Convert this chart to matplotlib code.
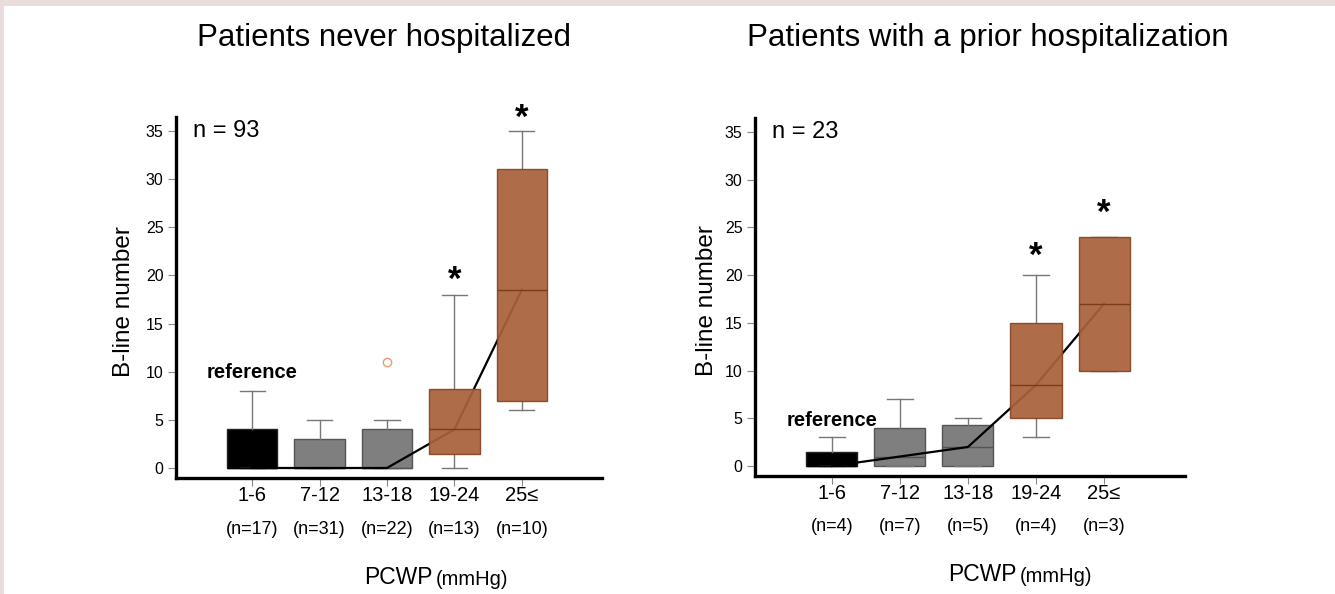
import numpy as np
import matplotlib.pyplot as plt
from matplotlib.patches import Rectangle

plt.rcParams['font.family'] = ['Liberation Sans', 'DejaVu Sans']

categories = ['1-6', '7-12', '13-18', '19-24', '25≤']

# never hospitalized
never_n = ['(n=17)', '(n=31)', '(n=22)', '(n=13)', '(n=10)']
never_q1 = [0, 0, 0, 1.5, 7]
never_q3 = [4, 3, 4, 8.2, 31]
never_med = [0, 0, 0, 4, 18.5]
never_lo = [0, 0, 0, 0, 6]
never_hi = [8, 5, 5, 18, 35]
never_fliers = [[], [], [11], [], []]
never_star = [None, None, None, 19.5, 36.3]

# prior hospitalization
prior_n = ['(n=4)', '(n=7)', '(n=5)', '(n=4)', '(n=3)']
prior_q1 = [0, 0, 0, 5, 10]
prior_q3 = [1.5, 4, 4.3, 15, 24]
prior_med = [0, 1, 2, 8.5, 17]
prior_lo = [0, 0, 0, 3, 10]
prior_hi = [3, 7, 5, 20, 24]
prior_fliers = [[], [], [], [], []]
prior_star = [None, None, None, 22, 26.5]

box_colors = ['black', '#7f7f7f', '#7f7f7f', '#a8623a', '#a8623a']
edge_colors = ['#222222', '#555555', '#555555', '#844522', '#844522']
med_colors = ['black', '#555555', '#555555', '#7a3d1c', '#7a3d1c']

fig = plt.figure(figsize=(13.35, 5.94), dpi=100)
fig.patch.set_facecolor('#e9dcdc')
fig.patches.append(Rectangle((4 / 1335, 0), 1, 1 - 6 / 594, transform=fig.transFigure,
                             facecolor='white', edgecolor='none', zorder=-10))


def panel(rect, q1, q3, med, lo, hi, fliers, stars, nlab, n_total, ref_y, ylab_x, unit_x):
    ax = fig.add_axes(rect)
    ax.patch.set_alpha(0)
    stats = []
    for i in range(len(categories)):
        stats.append(dict(q1=q1[i], q3=q3[i], med=med[i], whislo=lo[i], whishi=hi[i],
                          fliers=fliers[i]))
    pos = np.arange(1, len(categories) + 1)
    bp = ax.bxp(stats, positions=pos, widths=0.75, patch_artist=True, showfliers=True,
                whiskerprops=dict(color='#777777', lw=1),
                capprops=dict(color='#777777', lw=1),
                boxprops=dict(lw=1),
                flierprops=dict(marker='o', markerfacecolor='none', markeredgecolor='#ec9a70',
                                markersize=6, markeredgewidth=1))
    for i, b in enumerate(bp['boxes']):
        b.set_facecolor(box_colors[i])
        b.set_edgecolor(edge_colors[i])
        if i >= 3:
            b.set_zorder(3)
            b.set_alpha(0.93)
        else:
            b.set_zorder(2)
    for i, m in enumerate(bp['medians']):
        m.set_color(med_colors[i])
        m.set_lw(1)
        m.set_zorder(3.5 if i >= 3 else 2.2)
    ax.plot(pos, med, color='black', lw=1.6, zorder=2.5)

    for i, s in enumerate(stars):
        if s is not None:
            ax.text(pos[i], s, '*', ha='center', va='center', fontsize=25, fontweight='bold')
    ax.text(pos[0], ref_y, 'reference', ha='center', va='center', fontsize=14.5,
            fontweight='bold')
    ax.text(0.12, 35, n_total, ha='left', va='center', fontsize=17)

    ax.set_xlim(-0.13, 6.19)
    ax.set_ylim(-1.04, 36.45)
    ax.set_yticks(range(0, 36, 5))
    ax.set_xticks(pos)
    ax.set_xticklabels(categories, fontsize=14.5)
    ax.tick_params(axis='y', labelsize=11.5, length=6, width=0.8, color='#888888', pad=3)
    ax.tick_params(axis='x', length=6, width=0.8, color='#888888', pad=0)
    for sp in ['top', 'right']:
        ax.spines[sp].set_visible(False)
    for sp in ['left', 'bottom']:
        ax.spines[sp].set_linewidth(2.4)
        ax.spines[sp].set_color('black')

    for i, t in enumerate(nlab):
        ax.text(pos[i], -0.142, t, transform=ax.get_xaxis_transform(),
                ha='center', va='center', fontsize=13)
    ax.text(unit_x, -0.275, 'PCWP', transform=ax.transAxes, ha='right', va='center',
            fontsize=16.5)
    ax.text(unit_x + 0.007, -0.28, '(mmHg)', transform=ax.transAxes, ha='left', va='center',
            fontsize=14.5)
    ax.set_ylabel('B-line number', fontsize=17.5)
    ax.yaxis.set_label_coords(ylab_x, 0.49)
    return ax


ax1 = panel([176 / 1335, 116 / 594, 426 / 1335, 361 / 594],
            never_q1, never_q3, never_med, never_lo, never_hi, never_fliers, never_star,
            never_n, 'n = 93', 9.9, -0.097, 0.603)
ax2 = panel([755 / 1335, 118 / 594, 430 / 1335, 358 / 594],
            prior_q1, prior_q3, prior_med, prior_lo, prior_hi, prior_fliers, prior_star,
            prior_n, 'n = 23', 4.8, -0.085, 0.609)

fig.text(384 / 1335, 1 - 38 / 594, 'Patients never hospitalized', ha='center', va='center',
         fontsize=22.5)
fig.text(988 / 1335, 1 - 38 / 594, 'Patients with a prior hospitalization', ha='center',
         va='center', fontsize=22.5)

fig.savefig('out.png', dpi=100, facecolor=fig.get_facecolor())
